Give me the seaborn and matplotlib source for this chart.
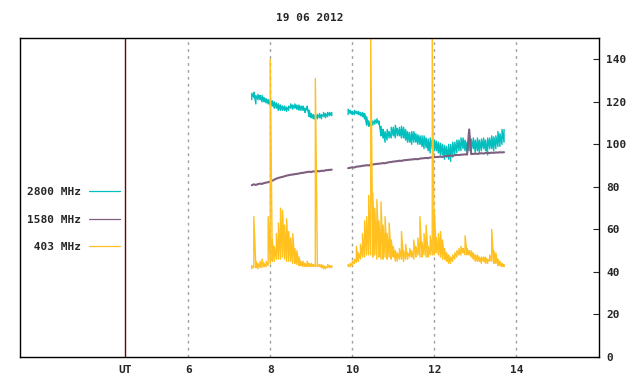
" 19 06 2012 radio flux plot "
import numpy as np
import matplotlib
matplotlib.use('Agg')
import matplotlib.pyplot as plt
import seaborn as sns

# two observing runs (UT hours), samples every 0.05 h
SEG1 = (7.55, 9.50)
SEG2 = (9.90, 13.70)

# 2800 MHz, low / high envelope of the noisy trace
F2800_LO_1 = [121, 122, 119, 121, 121, 120, 120, 119.5, 119, 118.5, 118, 117, 117, 116,
              116, 116, 116, 115.5, 116, 117, 116.5, 117, 116.5, 116, 116, 116, 115, 116,
              113, 112.5, 112, 111.5, 112, 112.5, 112, 113, 112.5, 113, 113.5, 113.5]
F2800_HI_1 = [124, 124.5, 123, 123.5, 123, 123, 122, 121.5, 121, 121, 120.5, 120, 119.5, 119,
              118.5, 118, 118, 117.5, 118, 119, 118.5, 119, 118.5, 118.5, 118, 118, 117, 118,
              116, 114.5, 114, 114, 114, 114.5, 114, 115, 114.5, 115, 115, 115]
F2800_LO_2 = [114, 114.5, 114, 114, 114.5, 114, 113.5, 113, 112, 109, 108.5, 108, 109, 109.5,
              110, 109.5, 104, 103, 101, 102, 103, 103, 104, 103, 104, 104, 103, 103, 102,
              101, 101, 100, 101, 101, 100, 100, 99, 98, 98.5, 97, 96, 98, 97, 97, 96, 95,
              95, 93, 94, 93, 92, 94, 95, 96, 97, 97, 98, 97, 96, 97, 97, 98, 96, 97, 96,
              97, 98, 97, 95, 98, 98, 97, 98, 99, 99, 100, 101]
F2800_HI_2 = [116.5, 116, 115.5, 116, 115.5, 115.5, 115, 115, 114.5, 113, 111, 110.5, 111,
              111.5, 112, 111, 108.5, 107, 106, 107, 106, 108, 108, 109, 107.5, 108, 108.5,
              108, 107, 106, 105.5, 106, 106, 105, 104.5, 104, 104, 104, 103, 102.5, 103, 102,
              102, 101.5, 101, 100.5, 100, 99.5, 99, 100, 100, 101, 101, 102, 102, 103, 103,
              102, 101, 103, 102.5, 103, 102, 103, 102, 102.5, 103, 102, 103, 103, 104, 103.5,
              104, 106, 105, 107, 107]

# 1580 MHz
F1580_1 = [80.8, 81.2, 80.9, 81.3, 81.5, 81.4, 81.8, 82.0, 82.2, 82.5, 82.9, 83.4, 83.9, 84.2,
           84.5, 84.7, 85.0, 85.3, 85.5, 85.7, 85.8, 86.0, 86.1, 86.3, 86.5, 86.6, 86.8, 87.0,
           87.1, 87.0, 87.3, 87.2, 87.4, 87.3, 87.6, 87.5, 87.8, 87.9, 88.0, 88.1]
F1580_2 = [88.8, 89.0, 89.2, 89.1, 89.5, 89.6, 89.7, 89.9, 90.0, 90.2, 90.1, 90.4, 90.5, 90.7,
           90.8, 90.9, 91.0, 91.2, 91.1, 91.4, 91.6, 91.7, 91.9, 92.0, 92.1, 92.3, 92.2, 92.5,
           92.6, 92.7, 92.8, 92.9, 93.0, 93.1, 93.0, 93.3, 93.4, 93.5, 93.6, 93.5, 93.8, 93.9,
           94.0, 94.0, 94.1, 94.2, 94.1, 94.4, 94.5, 94.6, 94.7, 94.6, 94.9, 95.0, 95.0, 95.1,
           95.2, 95.3, 95.2, 107.0, 95.4, 95.5, 95.6, 95.5, 95.7, 95.8, 95.7, 95.9, 96.0, 95.9,
           96.1, 96.0, 96.2, 96.1, 96.3, 96.2, 96.3]

# 403 MHz
F403_LO_1 = [41.5, 42, 42, 41.5, 42, 42, 42.5, 42.5, 43, 44, 45, 45, 46, 46, 46, 47, 46, 45,
             45, 45, 44, 44, 43.5, 43, 43, 42.5, 42.5, 42.5, 42.5, 42.5, 42.5, 42.5, 42.5, 42.5,
             42, 41.5, 41.5, 42, 42, 42]
F403_HI_1 = [43, 66, 45, 44, 45, 46, 44, 45, 66, 140, 55, 52, 58, 63, 70, 69, 62, 65, 59, 56,
             58, 51, 50, 47, 45, 45, 44, 45, 44, 44, 43.5, 131, 43.5, 43.5, 43.5, 43, 42.5,
             43.5, 43, 43]
F403_LO_2 = [42.5, 42.5, 43, 44, 44.5, 45, 46, 47, 47, 48, 48, 48, 47, 48, 46, 47, 46, 46, 47,
             46, 47, 46, 47, 45, 45, 46, 46, 45, 46, 46, 47, 47, 46, 47, 48, 47, 47, 48, 47,
             47, 48, 48, 48, 49, 48, 47, 46, 46, 45, 44, 44, 45, 46, 47, 48, 48, 49, 48, 48,
             48, 47, 46, 45, 45, 45, 44, 45, 44, 44, 45, 45, 44, 44, 43, 43, 42.5, 42.5]
F403_HI_2 = [43.5, 44, 45, 46, 52, 49, 53, 58, 64, 66, 76, 150, 77, 70, 74, 64, 73, 62, 66,
             58, 63, 55, 52, 50, 49, 51, 59, 50, 53, 49, 51, 50, 55, 52, 56, 66, 54, 58, 62,
             52, 57, 150, 69, 56, 58, 59, 55, 51, 49, 48, 47, 48, 49, 50, 51, 52, 51, 57, 51,
             50, 50, 49, 48, 48, 47, 47, 47, 47, 46, 48, 60, 50, 49, 46, 45, 44, 43.5]

LABELS = ['2800 MHz', '1580 MHz', ' 403 MHz']
COLORS = ['#00bfbf', '#7f5f7f', '#ffc020']
XTICKS = [6, 8, 10, 12, 14]
YTICKS = [0, 20, 40, 60, 80, 100, 120, 140]
UT_POS = 4.46
TITLE = '19 06 2012'


def zigzag(seg, lo, hi):
    """ low/high envelope -> one jagged trace """
    t = np.linspace(seg[0], seg[1], len(lo))
    return np.repeat(t, 2), np.column_stack([lo, hi]).ravel()


if __name__ == "__main__":
    sns.set_style('ticks')
    plt.rcParams['font.family'] = ['DejaVu Sans Mono']
    plt.rcParams['font.weight'] = 'bold'
    plt.rcParams['font.size'] = 8

    fig = plt.figure(figsize=(6.4, 3.84), dpi=100)
    ax = fig.add_axes([0.03125, 0.0703, 0.905, 0.8307])

    for ix, (seg, lo, hi) in enumerate([(SEG1, F2800_LO_1, F2800_HI_1),
                                        (SEG2, F2800_LO_2, F2800_HI_2)]):
        x, y = zigzag(seg, lo, hi)
        sns.lineplot(x=x, y=y, estimator=None, sort=False, color=COLORS[0], lw=1.0,
                     ax=ax, label=LABELS[0] if ix == 0 else None)
    for ix, (seg, vals) in enumerate([(SEG1, F1580_1), (SEG2, F1580_2)]):
        t = np.linspace(seg[0], seg[1], len(vals))
        sns.lineplot(x=t, y=vals, estimator=None, sort=False, color=COLORS[1], lw=1.5,
                     ax=ax, label=LABELS[1] if ix == 0 else None)
    for ix, (seg, lo, hi) in enumerate([(SEG1, F403_LO_1, F403_HI_1),
                                        (SEG2, F403_LO_2, F403_HI_2)]):
        x, y = zigzag(seg, lo, hi)
        sns.lineplot(x=x, y=y, estimator=None, sort=False, color=COLORS[2], lw=1.0,
                     ax=ax, label=LABELS[2] if ix == 0 else None)

    for xt in XTICKS:
        ax.axvline(xt, color='#a0a0a0', lw=1, ls=(0, (2, 3)), zorder=0)
    ax.axvline(UT_POS, color='#700000', lw=1)

    ax.set_xlim(1.9, 16.02)
    ax.set_ylim(0, 150)
    ax.set_xticks([UT_POS] + XTICKS)
    ax.set_xticklabels(['UT'] + [str(v) for v in XTICKS])
    ax.tick_params(axis='x', length=0, pad=6)
    ax.yaxis.tick_right()
    ax.set_yticks(YTICKS)
    ax.tick_params(axis='y', direction='in', length=4, pad=5)
    ax.set_xlabel('')
    ax.set_ylabel('')
    for sp in ax.spines.values():
        sp.set_visible(True)
        sp.set_color('black')
        sp.set_linewidth(1)
    ax.set_title(TITLE, pad=12, fontsize=8, fontweight='bold')

    leg = ax.legend(loc='upper right', bbox_to_anchor=(0.172, 0.533), frameon=False,
                    markerfirst=False, handlelength=2.8, handletextpad=0.7,
                    labelspacing=1.58, borderpad=0, borderaxespad=0)
    for line in leg.get_lines():
        line.set_linewidth(0.9)

    plt.savefig('out.png', dpi=100)
    plt.close()
